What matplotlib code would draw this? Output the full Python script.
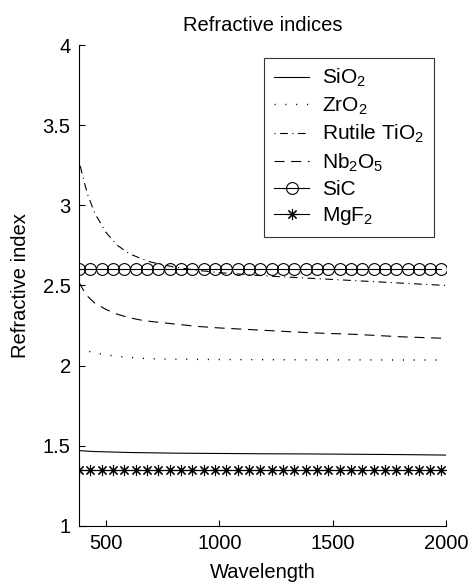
import numpy as np
import matplotlib.pyplot as plt

plt.rcParams['font.family'] = ['Liberation Sans', 'DejaVu Sans']
plt.rcParams['mathtext.fontset'] = 'custom'
plt.rcParams['mathtext.rm'] = 'Liberation Sans'
plt.rcParams['mathtext.it'] = 'Liberation Sans'

# wavelength grid for the dispersive materials
wl = [380, 400, 420, 450, 500, 550, 600, 650, 700, 800, 900, 1000, 1200, 1400, 1600, 1800, 2000]
sio2 = [1.470, 1.468, 1.466, 1.464, 1.462, 1.460, 1.458, 1.457, 1.456, 1.454, 1.453, 1.452, 1.450, 1.449, 1.447, 1.445, 1.442]
zro2 = [2.11, 2.10, 2.09, 2.08, 2.067, 2.058, 2.052, 2.046, 2.043, 2.040, 2.039, 2.038, 2.037, 2.036, 2.036, 2.035, 2.035]
tio2 = [3.28, 3.16, 3.06, 2.95, 2.83, 2.75, 2.70, 2.67, 2.645, 2.615, 2.595, 2.58, 2.56, 2.545, 2.53, 2.515, 2.50]
nb2o5 = [2.52, 2.47, 2.43, 2.39, 2.35, 2.32, 2.30, 2.285, 2.275, 2.26, 2.245, 2.235, 2.22, 2.205, 2.195, 2.18, 2.17]

# constant-index materials, sampled every 50 nm
wl_const = [380, 430, 480, 530, 580, 630, 680, 730, 780, 830, 880, 930, 980, 1030, 1080, 1130, 1180,
            1230, 1280, 1330, 1380, 1430, 1480, 1530, 1580, 1630, 1680, 1730, 1780, 1830, 1880, 1930, 1980]
sic_n = 2.6
mgf2_n = 1.35

labels = ['SiO$_2$', 'ZrO$_2$', 'Rutile TiO$_2$', 'Nb$_2$O$_5$', 'SiC', 'MgF$_2$']

fig = plt.figure(figsize=(4.7, 5.85), dpi=100)
ax = fig.add_axes([0.168, 0.101, 0.781, 0.822])

lw = 0.8
ax.plot(wl, sio2, color='black', lw=lw, label=labels[0])
ax.plot(wl, zro2, color='black', lw=1.0, linestyle=(0, (0.8, 7)), label=labels[1])
ax.plot(wl, tio2, color='black', lw=lw, linestyle=(0, (1, 4, 7, 4)), label=labels[2])
ax.plot(wl, nb2o5, color='black', lw=lw, linestyle=(0, (9, 6)), label=labels[3])
ax.plot(wl_const, [sic_n] * len(wl_const), color='black', lw=lw, marker='o',
        markersize=8.5, markerfacecolor='none', markeredgewidth=0.8, label=labels[4])
ax.plot(wl_const, [mgf2_n] * len(wl_const), color='black', lw=lw, marker=(8, 2, 0),
        markersize=8, markeredgewidth=0.8, label=labels[5])

ax.set_xlim(380, 2000)
ax.set_ylim(1, 4)
ax.set_xticks([500, 1000, 1500, 2000])
ax.set_yticks([1, 1.5, 2, 2.5, 3, 3.5, 4])
ax.set_yticklabels(['1', '1.5', '2', '2.5', '3', '3.5', '4'])

ax.spines['top'].set_visible(False)
ax.spines['right'].set_visible(False)
ax.spines['left'].set_linewidth(0.8)
ax.spines['bottom'].set_linewidth(0.8)
ax.tick_params(direction='in', length=4, width=0.8, labelsize=14.5, pad=6)

ax.set_title('Refractive indices', fontsize=14.5, pad=10)
ax.set_xlabel('Wavelength', fontsize=14.5, labelpad=7)
ax.set_ylabel('Refractive index', fontsize=14.5, labelpad=9)

leg = ax.legend(loc='upper right', fontsize=15, frameon=True, fancybox=False,
                edgecolor='black', handlelength=1.7, handletextpad=0.6,
                labelspacing=0.3, borderaxespad=0.6, borderpad=0.45)
leg.get_frame().set_linewidth(0.8)

fig.savefig('out.png', dpi=100)
